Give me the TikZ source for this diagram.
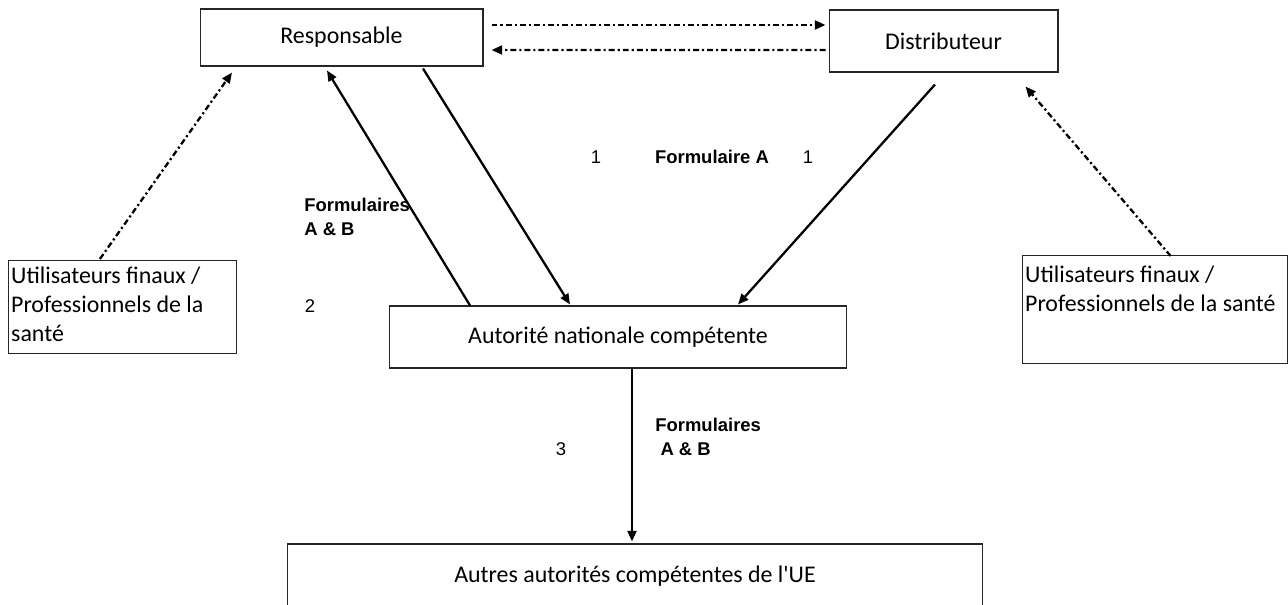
\documentclass[tikz,border=0pt]{standalone}
\usepackage{fontspec}
\setmainfont{Carlito}
\newfontfamily\arialfont{Liberation Sans}
\usetikzlibrary{arrows.meta}

\begin{document}
\begin{tikzpicture}[x=0.02cm, y=-0.02cm]
  \tikzset{BOX/.style={draw=black!85, line width=0.6pt, minimum height=1.24cm, font=\fontsize{13.6}{16.5}\selectfont} }
  \tikzset{USR/.style={draw=black!85, line width=0.6pt, align=left, anchor=north west, inner xsep=1.5pt, font=\fontsize{13.6}{16.5}\selectfont} }
  \tikzset{LBL/.style={font=\arialfont\bfseries\fontsize{10.5}{13.6}\selectfont, align=left} }
  \tikzset{NUM/.style={font=\arialfont\fontsize{10.5}{13}\selectfont} }
  \tikzset{FLW/.style={-{Triangle[length=6pt,width=5pt]}, line width=1.3pt} }
  \tikzset{DDT/.style={FLW, dash pattern=on 3.4pt off 1.7pt on 1.2pt off 1.7pt} }

  \useasboundingbox (0,0) rectangle (1288,605);

  \node[BOX, minimum width=5.66cm, minimum height=1.14cm] (resp) at (341.5,37.5) {Responsable};
  \node[BOX, minimum width=4.58cm] (dist) at (943.5,41) {Distributeur};
  \node[BOX, minimum width=9.16cm] (anc) at (618,337) {Autorit\'e nationale comp\'etente};
  \node[BOX, minimum width=13.92cm, minimum height=1.28cm] (autres) at (635,576) {Autres autorit\'es comp\'etentes de l\textquotesingle UE};

  \node[USR, inner ysep=3.8pt] (usrL) at (8,260) {\parbox[t][1.59cm][t]{4.45cm}{Utilisateurs finaux /\\Professionnels de la\\sant\'e}};
  \node[USR, inner ysep=5.8pt] (usrR) at (1022,255) {\parbox[t][1.75cm][t]{5.2cm}{Utilisateurs finaux /\\Professionnels de la sant\'e}};

  \node[NUM] (n1a) at (596,157) {1};
  \node[LBL] (formA) at (712,157) {Formulaire A};
  \node[NUM] (n1b) at (808,157) {1};
  \node[LBL, anchor=west, inner sep=0pt] (formAB1) at (304,217) {Formulaires\\A \& B};
  \node[NUM] (n2) at (310,306) {2};
  \node[NUM] (n3) at (561,449) {3};
  \node[LBL, anchor=west, inner sep=0pt] (formAB2) at (655,437) {Formulaires\\\hspace*{0.28em}A \& B};

  % echanges responsable / distributeur
  \draw[DDT] ([shift={(8,-12.5)}]resp.east) -- ([shift={(-3,-16)}]dist.west);
  \draw[DDT] ([shift={(-3,9)}]dist.west) -- ([shift={(8,12.5)}]resp.east);

  % signalements des utilisateurs
  \draw[DDT] ([shift={(-22.5,-1)}]usrL.north) -- ([shift={(-109.5,6)}]resp.south);
  \draw[DDT] ([shift={(15.5,1)}]usrR.north) -- ([shift={(-33,14)}]dist.south east);

  % formulaires
  \draw[FLW] ([shift={(-148,0)}]anc.north) -- ([shift={(-14.5,4)}]resp.south);
  \draw[FLW] ([shift={(81.5,2)}]resp.south) -- ([shift={(-48,-1)}]anc.north);
  \draw[FLW] ([shift={(-8.5,12)}]dist.south) -- ([shift={(120,-1)}]anc.north);
  \draw[FLW] ([shift={(14,0)}]anc.south) -- ([shift={(-3,-2)}]autres.north);
\end{tikzpicture}
\end{document}
